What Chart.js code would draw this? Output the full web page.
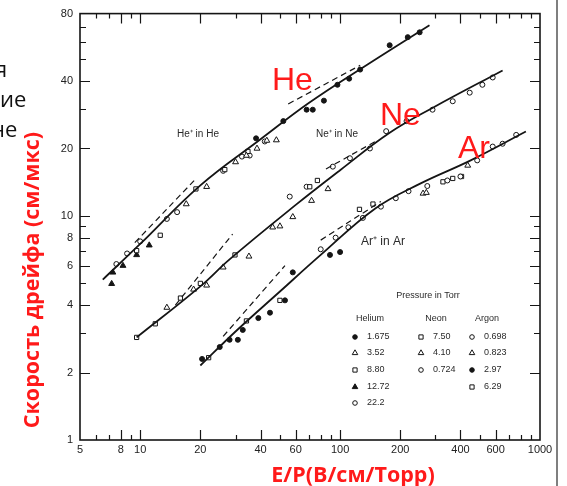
<!DOCTYPE html>
<html>
<head>
<meta charset="utf-8">
<script src="https://cdn.jsdelivr.net/npm/chart.js@4.4.1/dist/chart.umd.min.js"></script>
<style>
  html, body { margin: 0; padding: 0; background: #fff; }
  #wrap { width: 567px; height: 486px; position: relative; }
</style>
</head>
<body>
<div id="wrap"><canvas id="driftChart" width="567" height="486"></canvas></div>
<script>
// drift velocity of He+, Ne+, Ar+ in parent gas vs E/P, log-log

// --- axis ticks ---
const xTickLabels = [5, 8, 10, 20, 40, 60, 100, 200, 400, 600, 1000];
const yTickLabels = [1, 2, 4, 6, 8, 10, 20, 40, 80];
const xMinorTicks = [6, 7, 9, 30, 50, 70, 80, 90, 300, 500, 700, 800, 900];
const yMinorTicks = [3, 5, 7, 9, 30, 50, 60, 70];

// --- fitted curves [E/P, v] ---
const heCurve = [[6.5, 5.2], [10, 7.5], [20, 13.7], [40, 22], [70, 32], [130, 46], [280, 71]];
const neCurve = [[9.6, 2.87], [20, 4.85], [28, 6.4], [60, 11.2], [100, 16], [177, 23.5], [291, 30.4], [650, 44.6]];
const arCurve = [[20, 2.15], [30, 3.05], [50, 4.6], [80, 6.7], [150, 10.8], [250, 13.9], [450, 17.7], [850, 23.8]];

// --- dashed guide lines ---
const heDashLow = [[9.4, 7.6], [19.2, 14.8]];
const heDashHigh = [[55, 31.6], [126, 47]];
const neDashLow = [[15, 4.0], [29, 8.3]];
const neDashHigh = [[85, 16.2], [150, 21.5]];
const arDashLow = [[26, 2.9], [53, 6.0]];
const arDashHigh = [[80, 7.8], [160, 11.6]];

// --- measured points, by pressure (Torr) ---
const he1675 = [[38, 22.2], [52, 26.5], [68, 29.8], [73, 29.8], [83, 32.7], [97, 38.5], [111, 41], [126, 45], [177, 57.8], [218, 62.8], [250, 66]];
const he352 = [[17, 11.3], [21.5, 13.5], [30, 17.4], [34, 18.6], [38.4, 20], [43, 21.7], [48, 21.8]];
const he880 = [[9.6, 7.0], [12.6, 8.2], [19, 13.2], [26.5, 16.1], [34.6, 19.4]];
const he1272 = [[7.2, 4.98], [7.3, 5.6], [8.2, 6.0], [9.6, 6.7], [11.1, 7.4]];
const he222 = [[7.6, 6.1], [8.6, 6.8], [10, 7.7], [13.6, 9.7], [15.3, 10.4], [26, 15.9], [32.3, 18.4], [35.3, 18.6], [42, 21.5]];

const ne750 = [[9.6, 2.87], [11.9, 3.3], [15.9, 4.3], [20, 5.0], [29.8, 6.7], [70.5, 13.5], [77, 14.4]];
const ne410 = [[13.6, 3.9], [18.5, 4.7], [21.5, 4.9], [26, 5.9], [35, 6.6], [46, 8.9], [50, 9.0], [58, 9.9], [72, 11.7], [87, 13.2]];
const ne0724 = [[56, 12.2], [68, 13.5], [92, 16.6], [112, 18.1], [141, 20], [170, 23.9], [215, 26.5], [290, 29.8], [366, 32.5], [445, 35.5], [515, 38.5], [580, 41.5]];

const ar0698 = [[80, 7.1], [95, 8], [110, 8.9], [130, 9.8], [160, 11], [190, 12], [220, 12.9], [273, 13.6], [344, 14.4], [400, 15], [485, 17.7], [580, 20.4], [650, 21], [760, 23]];
const ar0823 = [[260, 12.6], [270, 12.7], [435, 16.8]];
const ar297 = [[20.4, 2.3], [25, 2.6], [28, 2.8], [30.8, 2.8], [32.6, 3.1], [39, 3.5], [44.6, 3.7], [53, 4.2], [58, 5.6], [89, 6.7], [100, 6.9]];
const ar629 = [[22, 2.33], [34, 3.4], [50, 4.2], [125, 10.7], [146, 11.3], [327, 14.2], [366, 14.7], [405, 15]];

// --- legend table ---
const legendCols = [
  { title: 'Helium', rows: [['circle', true, '1.675'], ['triangle', false, '3.52'], ['rect', false, '8.80'], ['triangle', true, '12.72'], ['circle', false, '22.2']] },
  { title: 'Neon', rows: [['rect', false, '7.50'], ['triangle', false, '4.10'], ['circle', false, '0.724']] },
  { title: 'Argon', rows: [['circle', false, '0.698'], ['triangle', false, '0.823'], ['circle', true, '2.97'], ['rect', false, '6.29']] }
];

const INK = '#151515';
const toXY = arr => arr.map(p => ({ x: p[0], y: p[1] }));

function curve(data, dashed) {
  return {
    data: toXY(data),
    showLine: true,
    borderColor: INK,
    borderWidth: dashed ? 1.2 : 1.8,
    borderDash: dashed ? [6, 4] : [],
    pointRadius: 0,
    tension: 0.4,
    fill: false
  };
}

function marks(data, style, filled) {
  const r = style === 'triangle' ? 3.4 : (style === 'rect' ? 3 : 2.5);
  return {
    data: toXY(data),
    showLine: false,
    pointStyle: style,
    pointRadius: r,
    pointBorderWidth: 1,
    borderColor: INK,
    backgroundColor: filled ? INK : '#fff',
    pointBackgroundColor: filled ? INK : '#fff'
  };
}

// frame, inward ticks, texts and the pressure table
const decorPlugin = {
  id: 'decor',
  beforeDatasetsDraw(chart) {
    const { ctx, chartArea: a, scales: { x, y } } = chart;
    ctx.save();
    ctx.strokeStyle = INK;
    ctx.lineWidth = 1.6;
    ctx.strokeRect(a.left, a.top, a.right - a.left, a.bottom - a.top);

    ctx.lineWidth = 1.2;
    ctx.beginPath();
    const xt = xTickLabels.map(v => [v, 10]).concat(xMinorTicks.map(v => [v, 5]));
    xt.forEach(([v, len]) => {
      const px = Math.round(x.getPixelForValue(v)) + 0.5;
      if (px <= a.left + 1 || px >= a.right - 1) return;
      ctx.moveTo(px, a.bottom); ctx.lineTo(px, a.bottom - len);
      ctx.moveTo(px, a.top); ctx.lineTo(px, a.top + len);
    });
    const yt = yTickLabels.map(v => [v, 10]).concat(yMinorTicks.map(v => [v, 6]));
    yt.forEach(([v, len]) => {
      const py = Math.round(y.getPixelForValue(v)) + 0.5;
      if (py <= a.top + 1 || py >= a.bottom - 1) return;
      ctx.moveTo(a.left, py); ctx.lineTo(a.left + len, py);
      ctx.moveTo(a.right, py); ctx.lineTo(a.right - len, py);
    });
    ctx.stroke();
    ctx.restore();
  },
  afterDraw(chart) {
    const { ctx } = chart;
    ctx.save();

    // slide edge on the right
    ctx.strokeStyle = '#555';
    ctx.lineWidth = 1.5;
    ctx.beginPath();
    ctx.moveTo(557, 0); ctx.lineTo(557, 486);
    ctx.stroke();

    // cropped slide text on the left
    ctx.fillStyle = '#111';
    ctx.font = '22px "Open Sans", sans-serif';
    ctx.textAlign = 'left';
    ctx.textBaseline = 'alphabetic';
    ctx.fillText('я', -5, 77);
    ctx.fillText('ие', 0, 107);
    ctx.fillText('не', -9, 137);

    // ion labels
    ctx.fillStyle = '#2a2a2a';
    ctx.font = '10px "Liberation Sans", Arial, sans-serif';
    ctx.textAlign = 'center';
    ctx.textBaseline = 'middle';
    ctx.fillText('He\u207A in He', 198, 134);
    ctx.fillText('Ne\u207A in Ne', 337, 134);
    ctx.font = '12px "Liberation Sans", Arial, sans-serif';
    ctx.fillText('Ar\u207A in Ar', 383, 242);

    // red gas names
    ctx.fillStyle = '#ff1a1a';
    ctx.font = '32px "Liberation Sans Narrow", "Liberation Sans", sans-serif';
    ctx.textAlign = 'left';
    ctx.textBaseline = 'alphabetic';
    ctx.fillText('He', 272, 90);
    ctx.fillText('Ne', 380, 125);
    ctx.fillText('Ar', 458, 158);

    // axis titles
    ctx.font = 'bold 21.5px "Open Sans", sans-serif';
    ctx.textAlign = 'center';
    ctx.textBaseline = 'middle';
    ctx.fillText('E/P(В/см/Торр)', 353, 476);
    ctx.save();
    ctx.translate(33, 280);
    ctx.rotate(-Math.PI / 2);
    ctx.fillText('Скорость дрейфа (см/мкс)', 0, 0);
    ctx.restore();

    // pressure table
    ctx.fillStyle = '#2a2a2a';
    ctx.font = '9px "Liberation Sans", Arial, sans-serif';
    ctx.textAlign = 'center';
    ctx.fillText('Pressure in Torr', 428, 296);
    const colSym = [355, 421, 472];
    const rowY = [337, 353, 370, 387, 403];
    legendCols.forEach((col, i) => {
      ctx.textAlign = 'center';
      ctx.fillStyle = '#2a2a2a';
      ctx.fillText(col.title, colSym[i] + 15, 319);
      col.rows.forEach((r, j) => {
        const [style, filled, label] = r;
        ctx.fillStyle = filled ? INK : '#fff';
        ctx.strokeStyle = INK;
        ctx.lineWidth = 1;
        const rad = style === 'triangle' ? 3.2 : (style === 'rect' ? 3 : 2.3);
        Chart.helpers.drawPoint(ctx, { pointStyle: style, radius: rad, borderWidth: 1 }, colSym[i], rowY[j]);
        ctx.fillStyle = '#2a2a2a';
        ctx.textAlign = 'left';
        ctx.fillText(label, colSym[i] + 12, rowY[j]);
      });
    });
    ctx.restore();
  }
};

const ctx = document.getElementById('driftChart').getContext('2d');

new Chart(ctx, {
  type: 'scatter',
  data: {
    datasets: [
      curve(heCurve), curve(neCurve), curve(arCurve),
      curve(heDashLow, true), curve(heDashHigh, true),
      curve(neDashLow, true), curve(neDashHigh, true),
      curve(arDashLow, true), curve(arDashHigh, true),
      marks(he1675, 'circle', true), marks(he352, 'triangle', false), marks(he880, 'rect', false),
      marks(he1272, 'triangle', true), marks(he222, 'circle', false),
      marks(ne750, 'rect', false), marks(ne410, 'triangle', false), marks(ne0724, 'circle', false),
      marks(ar0698, 'circle', false), marks(ar0823, 'triangle', false), marks(ar297, 'circle', true),
      marks(ar629, 'rect', false)
    ]
  },
  options: {
    responsive: false,
    animation: false,
    layout: { padding: { top: 12, right: 27, left: 0, bottom: 0 } },
    scales: {
      x: {
        type: 'logarithmic',
        min: 5,
        max: 1000,
        afterBuildTicks: scale => { scale.ticks = xTickLabels.map(v => ({ value: v })); },
        afterFit: scale => { scale.height = 46; },
        grid: { display: false, drawTicks: false },
        border: { display: false },
        ticks: {
          autoSkip: false,
          maxRotation: 0,
          padding: 3,
          color: '#222',
          font: { family: '"Liberation Sans", Arial, sans-serif', size: 11 },
          callback: v => String(v)
        }
      },
      y: {
        type: 'logarithmic',
        min: 1,
        max: 80,
        afterBuildTicks: scale => { scale.ticks = yTickLabels.map(v => ({ value: v })); },
        afterFit: scale => { scale.width = 80; },
        grid: { display: false, drawTicks: false },
        border: { display: false },
        ticks: {
          autoSkip: false,
          padding: 7,
          color: '#222',
          font: { family: '"Liberation Sans", Arial, sans-serif', size: 11 },
          callback: v => String(v)
        }
      }
    },
    plugins: {
      legend: { display: false },
      tooltip: { enabled: false }
    }
  },
  plugins: [decorPlugin]
});
</script>
</body>
</html>
